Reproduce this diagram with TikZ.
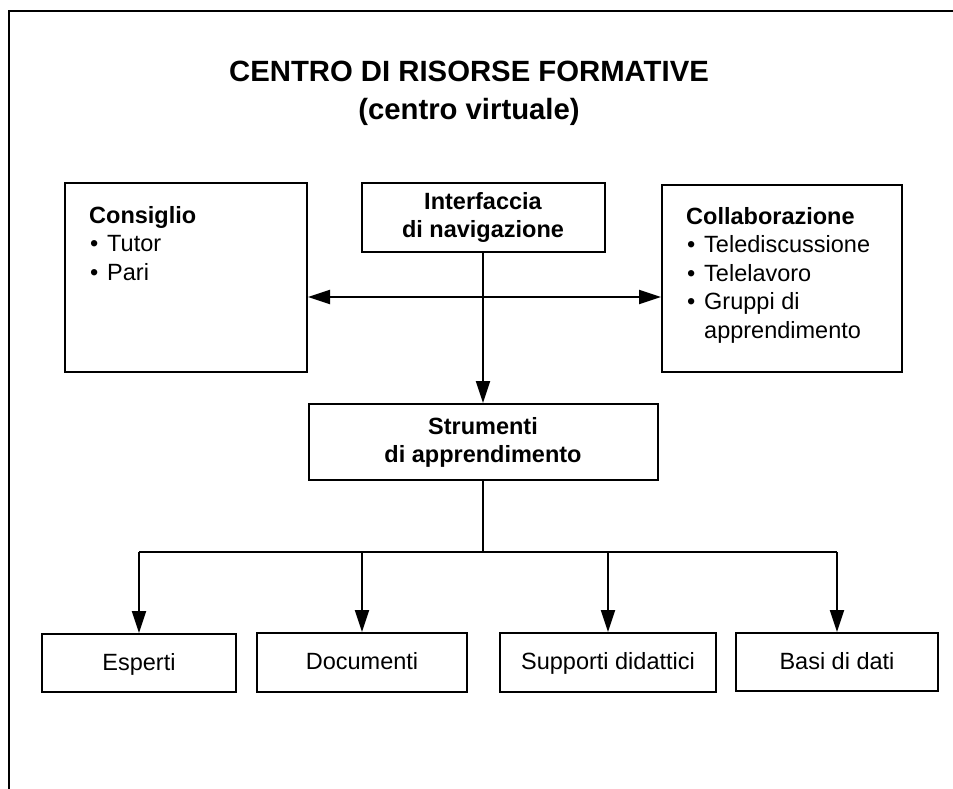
\documentclass[tikz,border=0pt]{standalone}
\usepackage{fontspec}
\setmainfont{Liberation Sans}
\usetikzlibrary{arrows.meta}

\tikzset{
	casella/.style={draw, line width=2pt, inner sep=0pt, align=center, font=\fontsize{23.5}{28}\selectfont},
	forte/.style={casella, font=\fontsize{23.5}{28}\selectfont\bfseries},
	fondo/.style={casella, text height=18pt, text depth=4pt},
	elenco/.style={inner sep=0pt, align=left, anchor=north west, font=\fontsize{23.5}{28.5}\selectfont},
	freccia/.style={line width=2pt, -{Triangle[length=22pt,width=14pt]}},
	doppia/.style={line width=2pt, {Triangle[length=22pt,width=14pt]}-{Triangle[length=22pt,width=14pt]}},
}
\newcommand{\voce}[1]{\makebox[18pt][l]{\hspace{1pt}\textbullet}#1}

\begin{document}
\begin{tikzpicture}[x=1pt,y=-1pt]
	\useasboundingbox (0,0) rectangle (953,789);
	\draw[line width=2.5pt] (9,789) -- (9,11) -- (953,11);
	
	\node[inner sep=0pt, anchor=north, align=center, font=\fontsize{29.3}{38}\selectfont\bfseries] (titolo) at (469,61) {CENTRO DI RISORSE FORMATIVE\\(centro virtuale)};
	
	\node[casella, minimum width=242, minimum height=189] (cons) at (186,277.5) {};
	\node[forte, minimum width=243, minimum height=69] (intf) at (483,217.5) {Interfaccia\\di navigazione};
	\node[casella, minimum width=240, minimum height=187] (coll) at (782,278.5) {};
	\node[elenco] (testocons) at ([shift={(25,24)}]cons.north west) {\textbf{Consiglio}\\\voce{Tutor}\\\voce{Pari}};
	\node[elenco] (testocoll) at ([shift={(25,23)}]coll.north west) {\textbf{Collaborazione}\\\voce{Telediscussione}\\\voce{Telelavoro}\\\voce{Gruppi di}\\\hspace*{18pt}apprendimento};
	
	\node[forte, minimum width=349, minimum height=76] (strum) at (483,442) {Strumenti\\di apprendimento};
	
	\node[fondo, minimum width=194, minimum height=58] (esp) at (139,663) {Esperti};
	\node[fondo, minimum width=210, minimum height=59] (doc) at (362,662.5) {Documenti};
	\node[fondo, minimum width=216, minimum height=59] (supp) at (608,662.5) {Supporti didattici};
	\node[fondo, minimum width=202, minimum height=58] (basi) at (837,662) {Basi di dati};
	
	\coordinate (incrocio) at (483,297);
	\coordinate (bus) at (483,552);
	
	\draw[freccia] (intf) -- (strum);
	\draw[doppia] (cons.east |- incrocio) -- (coll.west |- incrocio);
	\draw[line width=2pt] (strum) -- (bus);
	\draw[line width=2pt] (esp.north |- bus) -- (basi.north |- bus);
	\draw[freccia] (esp.north |- bus) -- (esp);
	\draw[freccia] (doc.north |- bus) -- (doc);
	\draw[freccia] (supp.north |- bus) -- (supp);
	\draw[freccia] (basi.north |- bus) -- (basi);
\end{tikzpicture}
\end{document}
